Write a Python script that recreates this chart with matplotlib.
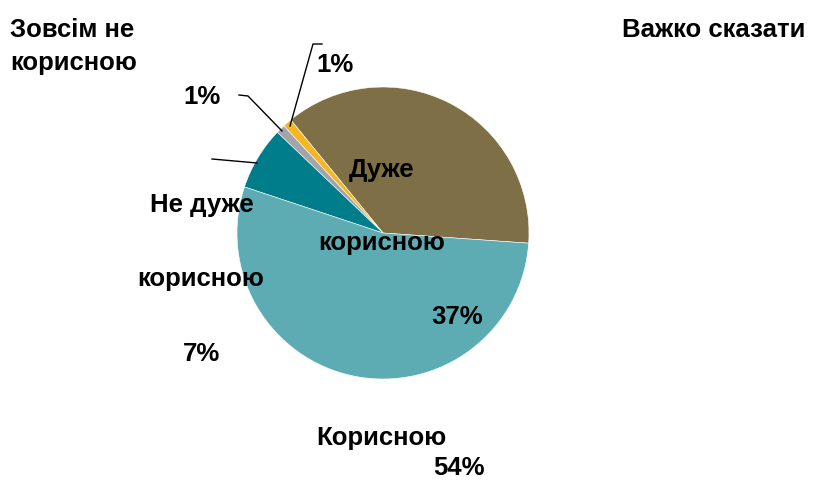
import matplotlib.pyplot as plt

plt.rcParams['font.family'] = ['Liberation Sans', 'DejaVu Sans']

# shares of answers, in drawing order (counter-clockwise from the right)
labels = ['Дуже корисною', 'Важко сказати', 'Зовсім не корисною',
          'Не дуже корисною', 'Корисною']
values = [37, 1, 1, 7, 54]
colors = ['#7F6F47', '#F4B724', '#A3A3AB', '#007D8B', '#5DACB4']

W, H = 813, 481
fig = plt.figure(figsize=(W / 100, H / 100), dpi=100)
ax = fig.add_axes([0, 0, 1, 1])


def Y(y):
    # pixel rows counted from the top
    return H - y


ax.pie(values, colors=colors, startangle=-4, counterclock=True,
       center=(383, Y(234)), radius=146, frame=True,
       wedgeprops=dict(edgecolor='white', linewidth=0.4))
ax.set_xlim(0, W)
ax.set_ylim(0, H)
ax.set_aspect('equal')
ax.axis('off')

fs = 18.5
kw = dict(fontsize=fs, fontweight='bold', ha='left', va='baseline')

# category names and percentages
ax.text(10, Y(37), 'Зовсім не', **kw)
ax.text(10, Y(70), 'корисною', **kw)
ax.text(622, Y(37), 'Важко сказати', **kw)
ax.text(316, Y(72), f'{values[1]}%', **kw)
ax.text(183, Y(104), f'{values[2]}%', **kw)

ax.text(349, Y(177), 'Дуже', **kw)
ax.text(318, Y(250), 'корисною', **kw)
ax.text(431, Y(324), f'{values[0]}%', **kw)

ax.text(150, Y(212), 'Не дуже', **kw)
ax.text(137, Y(286), 'корисною', **kw)
ax.text(183, Y(361), f'{values[3]}%', **kw)

ax.text(316, Y(445), 'Корисною', **kw)
ax.text(433, Y(475), f'{values[4]}%', **kw)

# leader lines for the small slices
lk = dict(color='black', linewidth=1)
ax.plot([290, 313, 322], [Y(127), Y(45), Y(45)], **lk)
ax.plot([282, 248, 239], [Y(132), Y(97), Y(96)], **lk)
ax.plot([257, 212], [Y(164), Y(160)], **lk)

fig.savefig('out.png', dpi=100)
